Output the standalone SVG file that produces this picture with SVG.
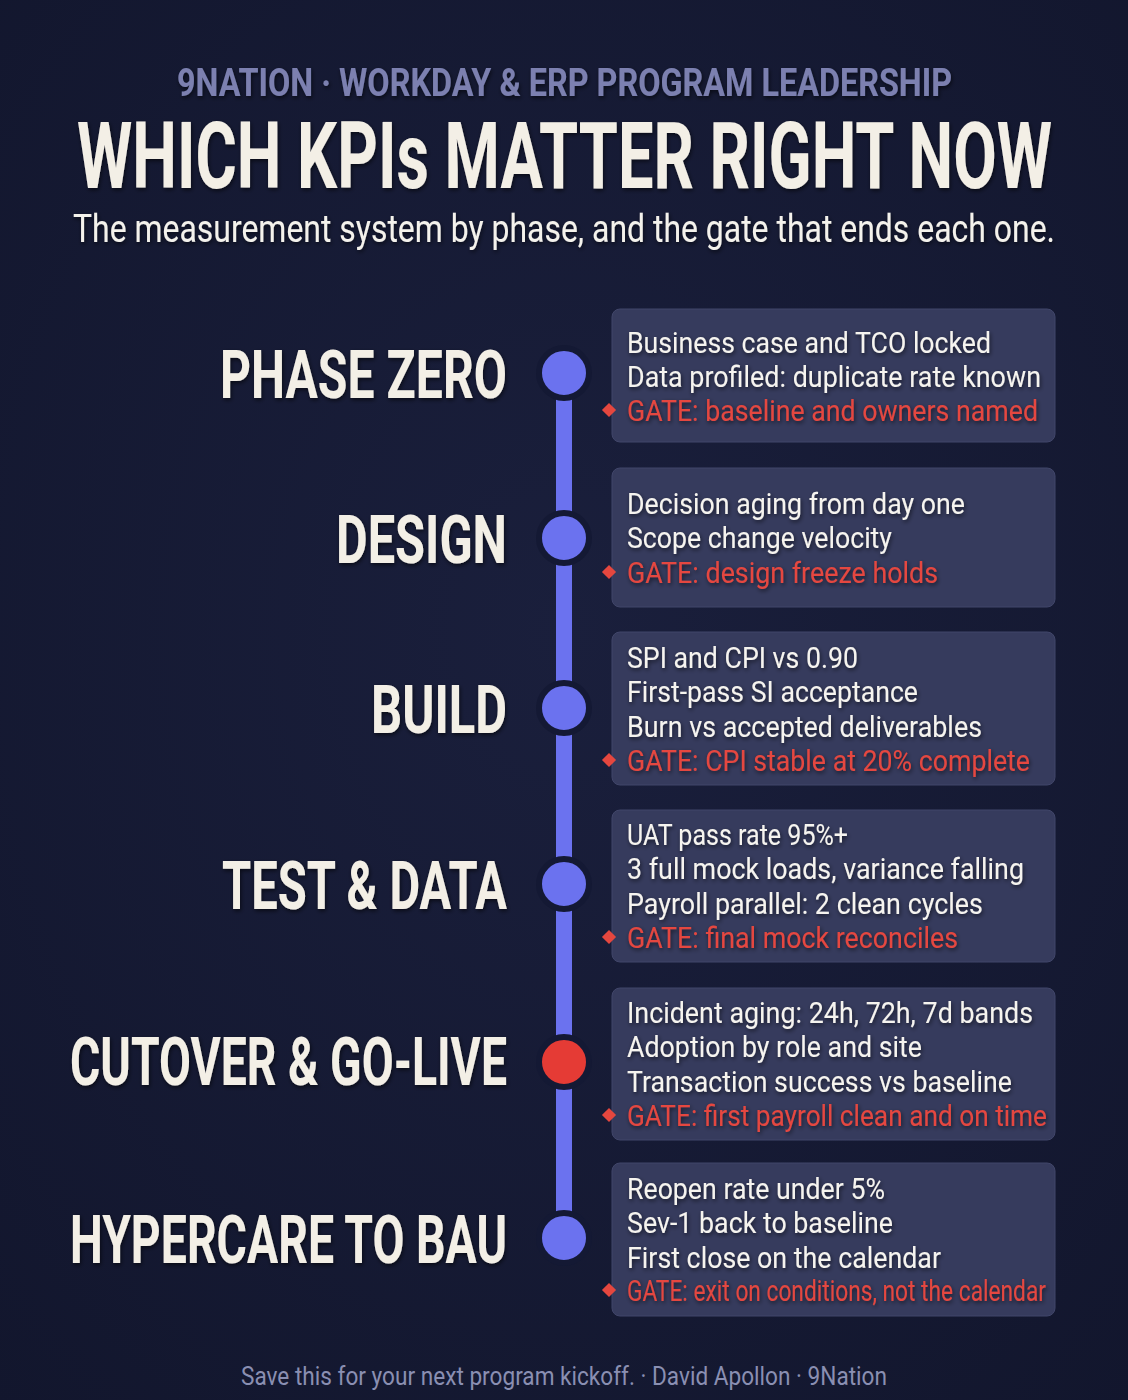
<svg xmlns="http://www.w3.org/2000/svg" width="1128" height="1400" viewBox="0 0 1128 1400">
<defs>
<filter id="sh" filterUnits="userSpaceOnUse" x="0" y="0" width="1128" height="1400"><feDropShadow dx="1" dy="2" stdDeviation="2" flood-color="#000" flood-opacity="0.6"/></filter>
<radialGradient id="bg" cx="50%" cy="45%" r="75%"><stop offset="0" stop-color="#1a1f3c"/><stop offset="1" stop-color="#12162d"/></radialGradient>
<style>
.hdr{font-family:Roboto,"Liberation Sans",sans-serif;font-weight:700;fill:#7b80b0}
.ttl{font-family:Roboto,"Liberation Sans",sans-serif;font-weight:700;fill:#f3efe6}
.sub{font-family:Roboto,"Liberation Sans",sans-serif;font-weight:400;fill:#f4f2ec}
.ph{font-family:Roboto,"Liberation Sans",sans-serif;font-weight:700;font-size:66px;fill:#f3efe6;text-anchor:end}
.card{fill:#363b5d;stroke:#41466a;stroke-width:1}
.kpi{font-family:Roboto,"Liberation Sans",sans-serif;font-size:29px;fill:#f6f4ef}
.gate{font-family:Roboto,"Liberation Sans",sans-serif;font-size:29px;fill:#e5473f}
.dia{fill:#e5473f}
.dot{fill:#6b72ef;stroke:#141934;stroke-width:6}
.dotr{fill:#e53b35;stroke:#141934;stroke-width:6}
.ft{font-family:Roboto,"Liberation Sans",sans-serif;font-size:26px;fill:#8a8fb2}
</style>
</defs>
<rect width="1128" height="1400" fill="url(#bg)"/>
<g id="header" filter="url(#sh)">
<text class="hdr" x="177" y="96" font-size="38" textLength="775" lengthAdjust="spacingAndGlyphs">9NATION · WORKDAY &amp; ERP PROGRAM LEADERSHIP</text>
<text class="ttl" x="77" y="188" font-size="92" textLength="975" lengthAdjust="spacingAndGlyphs">WHICH KPIs MATTER RIGHT NOW</text>
<text class="sub" x="73" y="242" font-size="38" textLength="982" lengthAdjust="spacingAndGlyphs">The measurement system by phase, and the gate that ends each one.</text>
</g>
<g id="connectors">
<rect x="556" y="373" width="16" height="865" fill="#6b72ef"/>
</g>
<g id="phase-zero">
<text class="ph" x="507" y="398" textLength="287" lengthAdjust="spacingAndGlyphs" filter="url(#sh)">PHASE ZERO</text>
<circle class="dot" cx="564" cy="373" r="25"/>
<rect class="card" x="612" y="309" width="443" height="133" rx="8"/>
<g filter="url(#sh)">
<text class="kpi" x="627" y="353" textLength="364" lengthAdjust="spacingAndGlyphs">Business case and TCO locked</text>
<text class="kpi" x="627" y="387" textLength="414" lengthAdjust="spacingAndGlyphs">Data profiled: duplicate rate known</text>
<text class="gate" x="627" y="421" textLength="411" lengthAdjust="spacingAndGlyphs">GATE: baseline and owners named</text>
</g>
<rect class="dia" x="604" y="405" width="10" height="10" transform="rotate(45 609 410)"/>
</g>
<g id="design">
<text class="ph" x="507" y="563" textLength="171" lengthAdjust="spacingAndGlyphs" filter="url(#sh)">DESIGN</text>
<circle class="dot" cx="564" cy="538" r="25"/>
<rect class="card" x="612" y="468" width="443" height="139" rx="8"/>
<g filter="url(#sh)">
<text class="kpi" x="627" y="514" textLength="338" lengthAdjust="spacingAndGlyphs">Decision aging from day one</text>
<text class="kpi" x="627" y="548" textLength="265" lengthAdjust="spacingAndGlyphs">Scope change velocity</text>
<text class="gate" x="627" y="583" textLength="311" lengthAdjust="spacingAndGlyphs">GATE: design freeze holds</text>
</g>
<rect class="dia" x="604" y="567" width="10" height="10" transform="rotate(45 609 572)"/>
</g>
<g id="build">
<text class="ph" x="507" y="733" textLength="136" lengthAdjust="spacingAndGlyphs" filter="url(#sh)">BUILD</text>
<circle class="dot" cx="564" cy="708" r="25"/>
<rect class="card" x="612" y="632" width="443" height="153" rx="8"/>
<g filter="url(#sh)">
<text class="kpi" x="627" y="668" textLength="231" lengthAdjust="spacingAndGlyphs">SPI and CPI vs 0.90</text>
<text class="kpi" x="627" y="702" textLength="291" lengthAdjust="spacingAndGlyphs">First-pass SI acceptance</text>
<text class="kpi" x="627" y="737" textLength="355" lengthAdjust="spacingAndGlyphs">Burn vs accepted deliverables</text>
<text class="gate" x="627" y="771" textLength="403" lengthAdjust="spacingAndGlyphs">GATE: CPI stable at 20% complete</text>
</g>
<rect class="dia" x="604" y="755" width="10" height="10" transform="rotate(45 609 760)"/>
</g>
<g id="test-data">
<text class="ph" x="507" y="909" textLength="285" lengthAdjust="spacingAndGlyphs" filter="url(#sh)">TEST &amp; DATA</text>
<circle class="dot" cx="564" cy="884" r="25"/>
<rect class="card" x="612" y="810" width="443" height="152" rx="8"/>
<g filter="url(#sh)">
<text class="kpi" x="627" y="845" textLength="221" lengthAdjust="spacingAndGlyphs">UAT pass rate 95%+</text>
<text class="kpi" x="627" y="879" textLength="397" lengthAdjust="spacingAndGlyphs">3 full mock loads, variance falling</text>
<text class="kpi" x="627" y="914" textLength="356" lengthAdjust="spacingAndGlyphs">Payroll parallel: 2 clean cycles</text>
<text class="gate" x="627" y="948" textLength="331" lengthAdjust="spacingAndGlyphs">GATE: final mock reconciles</text>
</g>
<rect class="dia" x="604" y="932" width="10" height="10" transform="rotate(45 609 937)"/>
</g>
<g id="cutover-go-live">
<text class="ph" x="507" y="1085" textLength="437" lengthAdjust="spacingAndGlyphs" filter="url(#sh)">CUTOVER &amp; GO-LIVE</text>
<circle class="dotr" cx="564" cy="1062" r="25"/>
<rect class="card" x="612" y="988" width="443" height="152" rx="8"/>
<g filter="url(#sh)">
<text class="kpi" x="627" y="1023" textLength="406" lengthAdjust="spacingAndGlyphs">Incident aging: 24h, 72h, 7d bands</text>
<text class="kpi" x="627" y="1057" textLength="295" lengthAdjust="spacingAndGlyphs">Adoption by role and site</text>
<text class="kpi" x="627" y="1092" textLength="385" lengthAdjust="spacingAndGlyphs">Transaction success vs baseline</text>
<text class="gate" x="627" y="1126" textLength="420" lengthAdjust="spacingAndGlyphs">GATE: first payroll clean and on time</text>
</g>
<rect class="dia" x="604" y="1110" width="10" height="10" transform="rotate(45 609 1115)"/>
</g>
<g id="hypercare-bau">
<text class="ph" x="507" y="1263" textLength="437" lengthAdjust="spacingAndGlyphs" filter="url(#sh)">HYPERCARE TO BAU</text>
<circle class="dot" cx="564" cy="1238" r="25"/>
<rect class="card" x="612" y="1163" width="443" height="153" rx="8"/>
<g filter="url(#sh)">
<text class="kpi" x="627" y="1199" textLength="258" lengthAdjust="spacingAndGlyphs">Reopen rate under 5%</text>
<text class="kpi" x="627" y="1233" textLength="266" lengthAdjust="spacingAndGlyphs">Sev-1 back to baseline</text>
<text class="kpi" x="627" y="1268" textLength="314" lengthAdjust="spacingAndGlyphs">First close on the calendar</text>
<text class="gate" x="627" y="1301" font-size="26" textLength="419" lengthAdjust="spacingAndGlyphs">GATE: exit on conditions, not the calendar</text>
</g>
<rect class="dia" x="604" y="1285" width="10" height="10" transform="rotate(45 609 1290)"/>
</g>
<g id="footer">
<text class="ft" x="241" y="1385" textLength="646" lengthAdjust="spacingAndGlyphs">Save this for your next program kickoff. · David Apollon · 9Nation</text>
</g>
</svg>
